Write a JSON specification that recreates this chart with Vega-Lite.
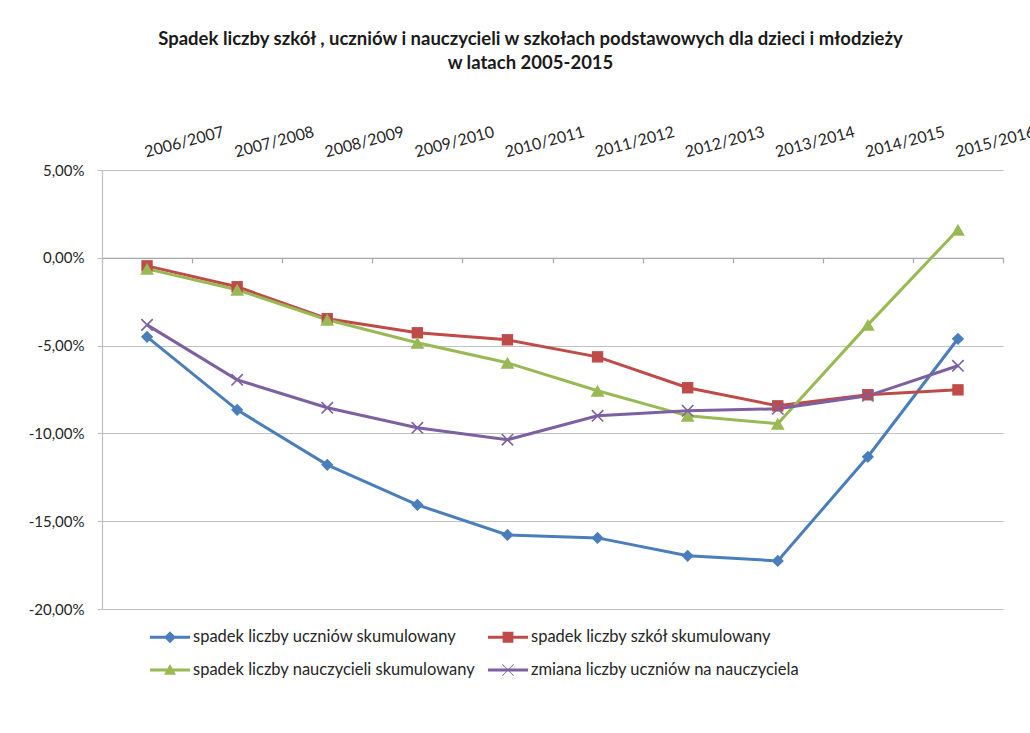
{
  "$schema": "https://vega.github.io/schema/vega-lite/v6.json",
  "width": 901,
  "height": 439,
  "autosize": "none",
  "padding": {"left": 102, "top": 170, "right": 27, "bottom": 124},
  "background": "white",
  "title": {
    "text": ["Spadek liczby szkół , uczniów  i nauczycieli w  szkołach podstawowych dla dzieci i młodzieży", "w latach 2005-2015"],
    "font": "Lato",
    "fontSize": 18.5,
    "fontWeight": "bold",
    "color": "#1a1a1a",
    "anchor": "middle",
    "dx": -22,
    "offset": 51,
    "lineHeight": 24
  },
  "config": {"view": {"stroke": null}, "font": "Lato"},
  "datasets": {
    "d": [
      {"year": "2006/2007", "series": "spadek liczby uczniów skumulowany", "value": -0.0450},
      {"year": "2007/2008", "series": "spadek liczby uczniów skumulowany", "value": -0.0866},
      {"year": "2008/2009", "series": "spadek liczby uczniów skumulowany", "value": -0.1179},
      {"year": "2009/2010", "series": "spadek liczby uczniów skumulowany", "value": -0.1407},
      {"year": "2010/2011", "series": "spadek liczby uczniów skumulowany", "value": -0.1578},
      {"year": "2011/2012", "series": "spadek liczby uczniów skumulowany", "value": -0.1595},
      {"year": "2012/2013", "series": "spadek liczby uczniów skumulowany", "value": -0.1697},
      {"year": "2013/2014", "series": "spadek liczby uczniów skumulowany", "value": -0.1726},
      {"year": "2014/2015", "series": "spadek liczby uczniów skumulowany", "value": -0.1133},
      {"year": "2015/2016", "series": "spadek liczby uczniów skumulowany", "value": -0.0461},
      {"year": "2006/2007", "series": "spadek liczby szkół skumulowany", "value": -0.0046},
      {"year": "2007/2008", "series": "spadek liczby szkół skumulowany", "value": -0.0165},
      {"year": "2008/2009", "series": "spadek liczby szkół skumulowany", "value": -0.0347},
      {"year": "2009/2010", "series": "spadek liczby szkół skumulowany", "value": -0.0427},
      {"year": "2010/2011", "series": "spadek liczby szkół skumulowany", "value": -0.0467},
      {"year": "2011/2012", "series": "spadek liczby szkół skumulowany", "value": -0.0564},
      {"year": "2012/2013", "series": "spadek liczby szkół skumulowany", "value": -0.0740},
      {"year": "2013/2014", "series": "spadek liczby szkół skumulowany", "value": -0.0843},
      {"year": "2014/2015", "series": "spadek liczby szkół skumulowany", "value": -0.0780},
      {"year": "2015/2016", "series": "spadek liczby szkół skumulowany", "value": -0.0752},
      {"year": "2006/2007", "series": "spadek liczby nauczycieli skumulowany", "value": -0.0063},
      {"year": "2007/2008", "series": "spadek liczby nauczycieli skumulowany", "value": -0.0182},
      {"year": "2008/2009", "series": "spadek liczby nauczycieli skumulowany", "value": -0.0353},
      {"year": "2009/2010", "series": "spadek liczby nauczycieli skumulowany", "value": -0.0484},
      {"year": "2010/2011", "series": "spadek liczby nauczycieli skumulowany", "value": -0.0598},
      {"year": "2011/2012", "series": "spadek liczby nauczycieli skumulowany", "value": -0.0757},
      {"year": "2012/2013", "series": "spadek liczby nauczycieli skumulowany", "value": -0.0900},
      {"year": "2013/2014", "series": "spadek liczby nauczycieli skumulowany", "value": -0.0945},
      {"year": "2014/2015", "series": "spadek liczby nauczycieli skumulowany", "value": -0.0382},
      {"year": "2015/2016", "series": "spadek liczby nauczycieli skumulowany", "value": 0.0160},
      {"year": "2006/2007", "series": "zmiana liczby uczniów na nauczyciela", "value": -0.0382},
      {"year": "2007/2008", "series": "zmiana liczby uczniów na nauczyciela", "value": -0.0695},
      {"year": "2008/2009", "series": "zmiana liczby uczniów na nauczyciela", "value": -0.0854},
      {"year": "2009/2010", "series": "zmiana liczby uczniów na nauczyciela", "value": -0.0968},
      {"year": "2010/2011", "series": "zmiana liczby uczniów na nauczyciela", "value": -0.1036},
      {"year": "2011/2012", "series": "zmiana liczby uczniów na nauczyciela", "value": -0.0900},
      {"year": "2012/2013", "series": "zmiana liczby uczniów na nauczyciela", "value": -0.0871},
      {"year": "2013/2014", "series": "zmiana liczby uczniów na nauczyciela", "value": -0.0860},
      {"year": "2014/2015", "series": "zmiana liczby uczniów na nauczyciela", "value": -0.0786},
      {"year": "2015/2016", "series": "zmiana liczby uczniów na nauczyciela", "value": -0.0615}
    ]
  },
  "data": {"name": "d"},
  "layer": [
    {
      "mark": {"type": "line", "strokeWidth": 3},
      "encoding": {
        "x": {
          "field": "year", "type": "nominal", "sort": null, "bandPosition": 0.5,
          "scale": {"type": "band", "paddingInner": 0, "paddingOuter": 0},
          "axis": {"orient": "top", "title": null, "domain": false, "ticks": false, "grid": false,
                   "labelAngle": -15, "labelFontSize": 16, "labelColor": "#262626", "labelPadding": 10}
        },
        "y": {
          "field": "value", "type": "quantitative",
          "scale": {"domain": [-0.2, 0.05], "nice": false, "zero": false},
          "axis": {"title": null, "values": [-0.2, -0.15, -0.1, -0.05, 0, 0.05],
                   "labelExpr": "(datum.value < -0.0001 ? '-' : '') + replace(format(abs(datum.value), '.2%'), '.', ',')",
                   "grid": true, "gridColor": "#c0c0c0", "gridWidth": 1.2,
                   "domainColor": "#c0c0c0", "domainWidth": 1.2, "tickColor": "#c0c0c0", "tickSize": 5,
                   "labelFontSize": 15, "labelPadding": 13, "labelColor": "#262626"}
        },
        "color": {
          "field": "series", "type": "nominal",
          "scale": {"domain": ["spadek liczby uczniów skumulowany", "spadek liczby szkół skumulowany", "spadek liczby nauczycieli skumulowany", "zmiana liczby uczniów na nauczyciela"],
                    "range": ["#4a7ebb", "#be4b48", "#98b954", "#7d60a0"]}
        }
      }
    },
    {
      "mark": {"type": "point", "filled": true, "opacity": 1},
      "encoding": {
        "x": {
          "field": "year", "type": "nominal", "sort": null, "bandPosition": 0.5,
          "axis": {"orient": "bottom", "offset": -351.2, "labels": false, "title": null, "grid": false,
                   "domainColor": "#a6a6a6", "domainWidth": 1.2, "tickColor": "#a6a6a6", "tickWidth": 1.2,
                   "tickBand": "extent", "tickSize": 5}
        },
        "y": {"field": "value", "type": "quantitative"},
        "color": {"field": "series", "type": "nominal"},
        "shape": {
          "condition": [
            {"test": "datum.series === 'spadek liczby uczniów skumulowany'", "value": "diamond"},
            {"test": "datum.series === 'spadek liczby szkół skumulowany'", "value": "square"},
            {"test": "datum.series === 'spadek liczby nauczycieli skumulowany'", "value": "triangle-up"}
          ],
          "value": "M-0.9,-1.1L1.1,0.9L0.9,1.1L-1.1,-0.9Z M-0.9,1.1L-1.1,0.9L0.9,-1.1L1.1,-0.9Z"
        },
        "size": {
          "condition": [
            {"test": "datum.series === 'spadek liczby nauczycieli skumulowany'", "value": 190},
            {"test": "datum.series === 'spadek liczby uczniów skumulowany'", "value": 150}
          ],
          "value": 130
        }
      }
    },
    {
      "transform": [{"filter": "false"}],
      "mark": {"type": "point", "filled": true},
      "encoding": {
        "color": {
          "field": "series", "type": "nominal",
          "legend": {"orient": "none", "legendX": 48, "legendY": 447, "columns": 2, "direction": "horizontal", "title": null,
                     "symbolSize": 1600, "symbolStrokeWidth": 0, "symbolOpacity": 1,
                     "labelFontSize": 16.5, "labelColor": "#262626", "labelLimit": 400,
                     "columnPadding": 12, "rowPadding": 4, "labelOffset": 3}
        },
        "shape": {
          "field": "series", "type": "nominal",
          "scale": {"domain": ["spadek liczby uczniów skumulowany", "spadek liczby szkół skumulowany", "spadek liczby nauczycieli skumulowany", "zmiana liczby uczniów na nauczyciela"],
                    "range": [
                      "M-1,-0.07L1,-0.07L1,0.07L-1,0.07Z M0,-0.3L0.3,0L0,0.3L-0.3,0Z",
                      "M-1,-0.07L1,-0.07L1,0.07L-1,0.07Z M-0.27,-0.27L0.27,-0.27L0.27,0.27L-0.27,0.27Z",
                      "M-1,-0.07L1,-0.07L1,0.07L-1,0.07Z M0,-0.3L0.3,0.24L-0.3,0.24Z",
                      "M-1,-0.07L1,-0.07L1,0.07L-1,0.07Z M-0.27,-0.3L0.3,0.27L0.27,0.3L-0.3,-0.27Z M-0.27,0.3L-0.3,0.27L0.27,-0.3L0.3,-0.27Z"
                    ]},
          "legend": {"orient": "none", "legendX": 48, "legendY": 447, "columns": 2, "direction": "horizontal", "title": null,
                     "symbolSize": 1600, "symbolStrokeWidth": 0, "symbolOpacity": 1,
                     "labelFontSize": 16.5, "labelColor": "#262626", "labelLimit": 400,
                     "columnPadding": 12, "rowPadding": 4, "labelOffset": 3}
        }
      }
    }
  ],
  "resolve": {"axis": {"x": "independent"}}
}
